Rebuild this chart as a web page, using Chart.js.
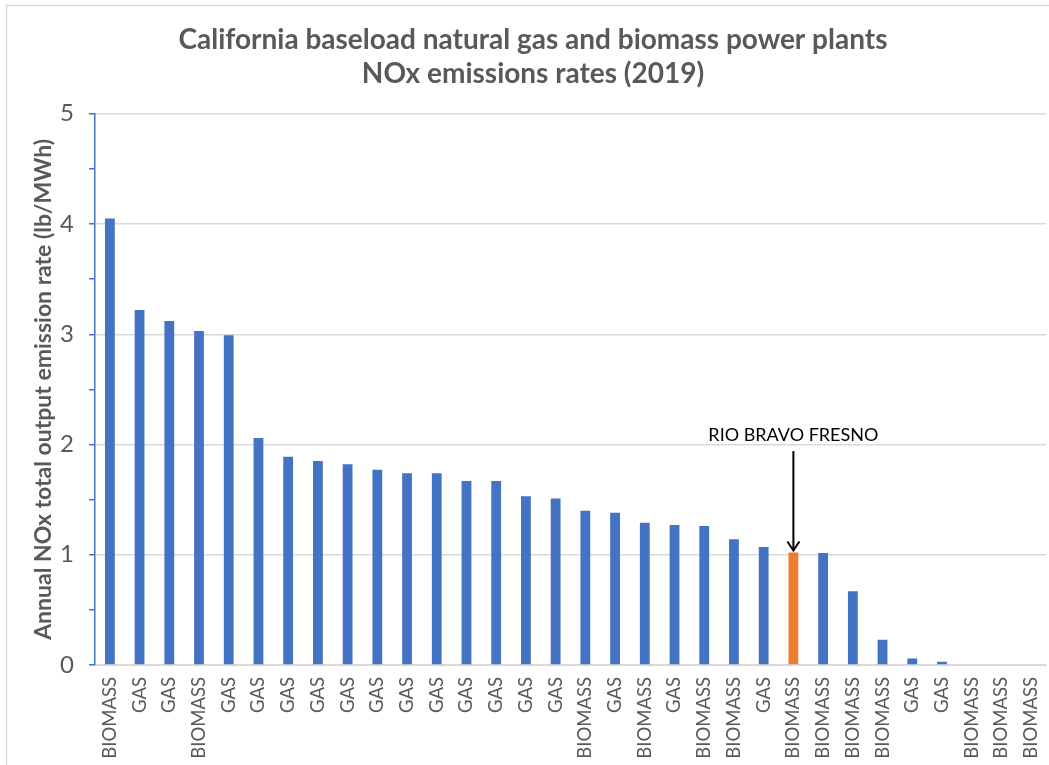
<!DOCTYPE html>
<html>
<head>
<meta charset="utf-8">
<title>California baseload NOx emissions rates (2019)</title>
<script src="https://cdn.jsdelivr.net/npm/chart.js@4/dist/chart.umd.min.js"></script>
<style>
  html, body { margin: 0; padding: 0; background: #ffffff; }
  #wrap { width: 1049px; height: 765px; position: relative; }
</style>
</head>
<body>
<div id="wrap"><canvas id="chart" width="1049" height="765"></canvas></div>
<script>
// Plant fuel type for each bar, sorted by emission rate
const plantTypes = [
  'BIOMASS', 'GAS', 'GAS', 'BIOMASS', 'GAS', 'GAS', 'GAS', 'GAS',
  'GAS', 'GAS', 'GAS', 'GAS', 'GAS', 'GAS', 'GAS', 'GAS',
  'BIOMASS', 'GAS', 'BIOMASS', 'GAS', 'BIOMASS', 'BIOMASS', 'GAS', 'BIOMASS',
  'BIOMASS', 'BIOMASS', 'BIOMASS', 'GAS', 'GAS', 'BIOMASS', 'BIOMASS', 'BIOMASS'
];

// Annual NOx total output emission rate (lb/MWh)
const noxRates = [
  4.05, 3.22, 3.12, 3.03, 2.99, 2.06, 1.89, 1.85,
  1.82, 1.77, 1.74, 1.74, 1.67, 1.67, 1.53, 1.51,
  1.40, 1.38, 1.29, 1.27, 1.26, 1.14, 1.07, 1.02,
  1.015, 0.67, 0.23, 0.06, 0.03, 0, 0, 0
];

// Highlighted plant
const highlightIndex = 23;
const highlightLabel = 'RIO BRAVO FRESNO';

const yTicks = [0, 1, 2, 3, 4, 5];

const BLUE = '#4472C4';
const ORANGE = '#ED7D31';
const TEXT = '#595959';
const GRID = '#D9D9D9';
const FONT = 'Lato, "Open Sans", sans-serif';

const barColors = noxRates.map((v, i) => i === highlightIndex ? ORANGE : BLUE);

// Thin frame around the chart area
const framePlugin = {
  id: 'frame',
  beforeDraw(chart) {
    const ctx = chart.ctx;
    ctx.save();
    ctx.fillStyle = '#ffffff';
    ctx.fillRect(0, 0, chart.width, chart.height);
    ctx.strokeStyle = GRID;
    ctx.lineWidth = 1.5;
    ctx.beginPath();
    ctx.moveTo(6.5, chart.height + 2);
    ctx.lineTo(6.5, 5.5);
    ctx.lineTo(chart.width + 2, 5.5);
    ctx.stroke();
    ctx.restore();
  }
};

// Callout label with an arrow pointing at the highlighted bar
const calloutPlugin = {
  id: 'callout',
  afterDatasetsDraw(chart) {
    const ctx = chart.ctx;
    const x = chart.scales.x.getPixelForValue(highlightIndex);
    const yBar = chart.scales.y.getPixelForValue(noxRates[highlightIndex]);
    const yStart = chart.scales.y.getPixelForValue(noxRates[highlightIndex] + 0.92);
    ctx.save();
    ctx.fillStyle = '#000000';
    ctx.font = '18px ' + FONT;
    ctx.textAlign = 'center';
    ctx.textBaseline = 'middle';
    ctx.fillText(highlightLabel, x, yStart - 16);
    ctx.strokeStyle = '#000000';
    ctx.lineWidth = 2;
    ctx.beginPath();
    ctx.moveTo(x, yStart);
    ctx.lineTo(x, yBar - 2);
    ctx.stroke();
    ctx.beginPath();
    ctx.moveTo(x - 6, yBar - 11);
    ctx.lineTo(x, yBar - 2);
    ctx.lineTo(x + 6, yBar - 11);
    ctx.stroke();
    ctx.restore();
  }
};

new Chart(document.getElementById('chart'), {
  type: 'bar',
  data: {
    labels: plantTypes,
    datasets: [{
      data: noxRates,
      backgroundColor: barColors,
      borderWidth: 0,
      barPercentage: 0.33,
      categoryPercentage: 1.0
    }]
  },
  options: {
    responsive: false,
    animation: false,
    events: [],
    layout: { padding: { left: 20, right: 3, top: 0, bottom: 0 } },
    plugins: {
      legend: { display: false },
      tooltip: { enabled: false },
      title: {
        display: true,
        text: ['California baseload natural gas and biomass power plants', 'NOx emissions rates (2019)'],
        color: TEXT,
        font: { family: FONT, size: 28, weight: 'bold', lineHeight: 1.21 },
        padding: { top: 23, bottom: 23 }
      }
    },
    scales: {
      x: {
        grid: { display: false, drawTicks: false },
        border: { display: true, color: GRID, width: 1 },
        ticks: {
          color: TEXT,
          font: { family: FONT, size: 18.5 },
          minRotation: 90,
          maxRotation: 90,
          autoSkip: false,
          padding: 12
        },
        afterFit(scale) {
          scale.height = 100;
          scale.paddingLeft = 0;
          scale.paddingRight = 0;
        }
      },
      y: {
        min: 0,
        max: 5,
        afterBuildTicks(scale) {
          const t = [];
          for (let v = 0; v <= 5.0001; v += 0.5) t.push({ value: Math.round(v * 10) / 10 });
          scale.ticks = t;
        },
        ticks: {
          color: TEXT,
          font: { family: FONT, size: 24 },
          padding: 15,
          callback: (v) => yTicks.includes(v) ? String(v) : ''
        },
        grid: {
          color: (ctx) => (ctx.tick && Number.isInteger(ctx.tick.value)) ? GRID : 'rgba(0,0,0,0)',
          tickColor: BLUE,
          tickLength: 6,
          lineWidth: 1.5
        },
        border: { display: true, color: BLUE, width: 1.5 },
        title: {
          display: true,
          text: 'Annual NOx total output emission rate (lb/MWh)',
          color: TEXT,
          font: { family: FONT, size: 23, weight: 'bold', lineHeight: 1.2 },
          padding: { top: 10, bottom: 0 }
        },
        afterFit(scale) { scale.width = 75; }
      }
    }
  },
  plugins: [framePlugin, calloutPlugin]
});
</script>
</body>
</html>
